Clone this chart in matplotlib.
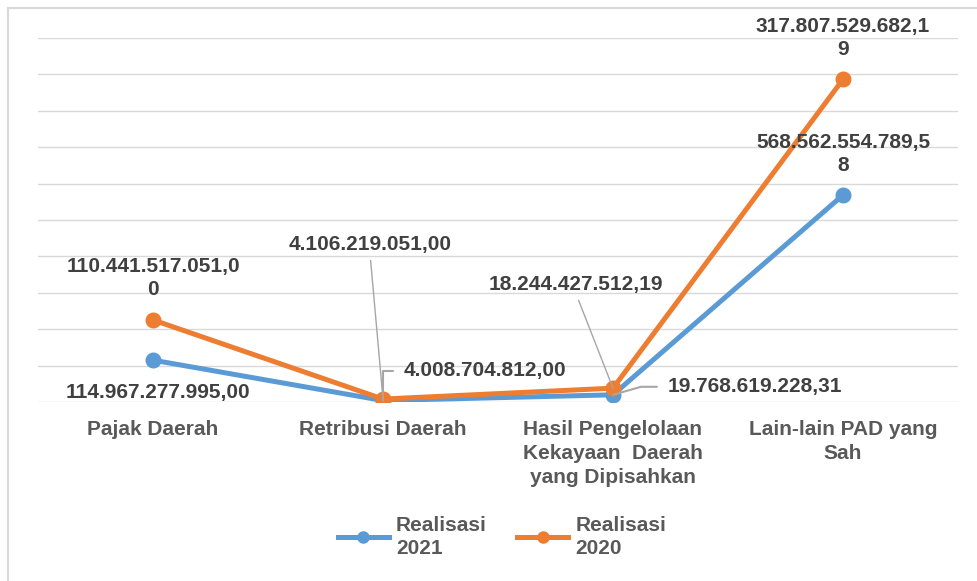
import matplotlib.pyplot as plt
from matplotlib.lines import Line2D

# data (Rupiah)
categories = ['Pajak Daerah', 'Retribusi Daerah',
              'Hasil Pengelolaan\nKekayaan  Daerah\nyang Dipisahkan',
              'Lain-lain PAD yang\nSah']
realisasi_2021 = [114967277995.00, 4008704812.00, 19768619228.31, 568562554789.58]
realisasi_2020 = [110441517051.00, 4106219051.00, 18244427512.19, 317807529682.19]

BLUE = '#5B9BD5'
ORANGE = '#ED7D31'
LABEL_C = '#404040'
AXIS_C = '#595959'
LEADER_C = '#A6A6A6'

plt.rcParams['font.family'] = ['Liberation Sans', 'DejaVu Sans']


def fmt(v, wrap=False):
    s = f'{v:,.2f}'.replace(',', ' ').replace('.', ',').replace(' ', '.')
    if wrap:
        s = s[:-1] + '\n' + s[-1]
    return s


# stacked line chart: orange sits on top of blue
stacked = [a + b for a, b in zip(realisasi_2021, realisasi_2020)]
x = list(range(len(categories)))

fig = plt.figure(figsize=(9.78, 5.81), dpi=100)
ax = fig.add_axes([38 / 978, 179 / 581, 920 / 978, 364 / 581])

ax.set_ylim(0, 1e12)
ax.set_xlim(-0.5, 3.5)
ax.set_yticks([i * 1e11 for i in range(11)])
ax.grid(axis='y', color='#D9D9D9', lw=1.0)
ax.set_axisbelow(True)
for s in ax.spines.values():
    s.set_visible(False)
ax.tick_params(axis='y', left=False, labelleft=False)
ax.tick_params(axis='x', length=0, pad=13)
ax.set_xticks(x)
ax.set_xticklabels(categories, fontsize=15, fontweight='bold', color=AXIS_C,
                   linespacing=1.33)

ax.plot(x, realisasi_2021, color=BLUE, lw=3.6, marker='o', ms=10.5,
        solid_capstyle='round', zorder=3)
ax.plot(x, stacked, color=ORANGE, lw=3.6, marker='o', ms=10.5,
        solid_capstyle='round', zorder=4)

lbl = dict(fontsize=15, fontweight='bold', color=LABEL_C,
           textcoords='offset pixels', linespacing=1.28, zorder=6)

# Pajak Daerah
ax.annotate(fmt(realisasi_2021[0]), (0, realisasi_2021[0]), xytext=(5, -32),
            ha='center', va='center', **lbl)
ax.annotate(fmt(realisasi_2020[0], wrap=True), (0, stacked[0]), xytext=(0, 42),
            ha='center', va='center', **lbl)

# Retribusi Daerah
ax.annotate(fmt(realisasi_2020[1]), (1, stacked[1]), xytext=(-13, 155),
            ha='center', va='center',
            arrowprops=dict(arrowstyle='-', color=LEADER_C, lw=1,
                            relpos=(0.5, 0), shrinkA=3, shrinkB=0), **lbl)
ax.annotate(fmt(realisasi_2021[1]), (1, realisasi_2021[1]), xytext=(21, 30),
            ha='left', va='center',
            arrowprops=dict(arrowstyle='-', color=LEADER_C, lw=1.5,
                            relpos=(0, 0.5), shrinkA=6, shrinkB=0,
                            connectionstyle='angle,angleA=0,angleB=90,rad=0'),
            **lbl)

# Hasil Pengelolaan
ax.annotate(fmt(realisasi_2020[2]), (2, stacked[2]), xytext=(-37, 104),
            ha='center', va='center',
            arrowprops=dict(arrowstyle='-', color=LEADER_C, lw=1,
                            relpos=(0.5, 0), shrinkA=3, shrinkB=0), **lbl)
ax.annotate(fmt(realisasi_2021[2]), (2, realisasi_2021[2]), xytext=(55, 8),
            ha='left', va='center',
            arrowprops=dict(arrowstyle='-', color=LEADER_C, lw=1.5,
                            relpos=(0, 0.5), shrinkA=6, shrinkB=0,
                            connectionstyle='angle,angleA=0,angleB=16,rad=0'),
            **lbl)

# Lain-lain PAD
ax.annotate(fmt(realisasi_2020[3], wrap=True), (3, stacked[3]), xytext=(0, 41),
            ha='center', va='center', **lbl)
ax.annotate(fmt(realisasi_2021[3], wrap=True), (3, realisasi_2021[3]), xytext=(0, 41),
            ha='center', va='center', **lbl)

# legend
handles = [Line2D([], [], color=BLUE, lw=3.6, marker='o', ms=8),
           Line2D([], [], color=ORANGE, lw=3.6, marker='o', ms=8)]
leg = fig.legend(handles, ['Realisasi\n2021', 'Realisasi\n2020'], ncol=2,
                 loc='center', bbox_to_anchor=(502 / 978, 1 - 537 / 581),
                 frameon=False, handlelength=2.45, handletextpad=0.35,
                 columnspacing=1.45,
                 prop=dict(size=15, weight='bold'))
for t in leg.get_texts():
    t.set_color(AXIS_C)
    t.set_linespacing(1.28)

# chart area frame (top and left edges only visible)
fig.add_artist(Line2D([8 / 978, 8 / 978], [0, 1 - 8 / 581], color='#D9D9D9', lw=1.5))
fig.add_artist(Line2D([8 / 978, 1], [1 - 8 / 581, 1 - 8 / 581], color='#D9D9D9', lw=1.5))

fig.savefig('out.png', dpi=100)
